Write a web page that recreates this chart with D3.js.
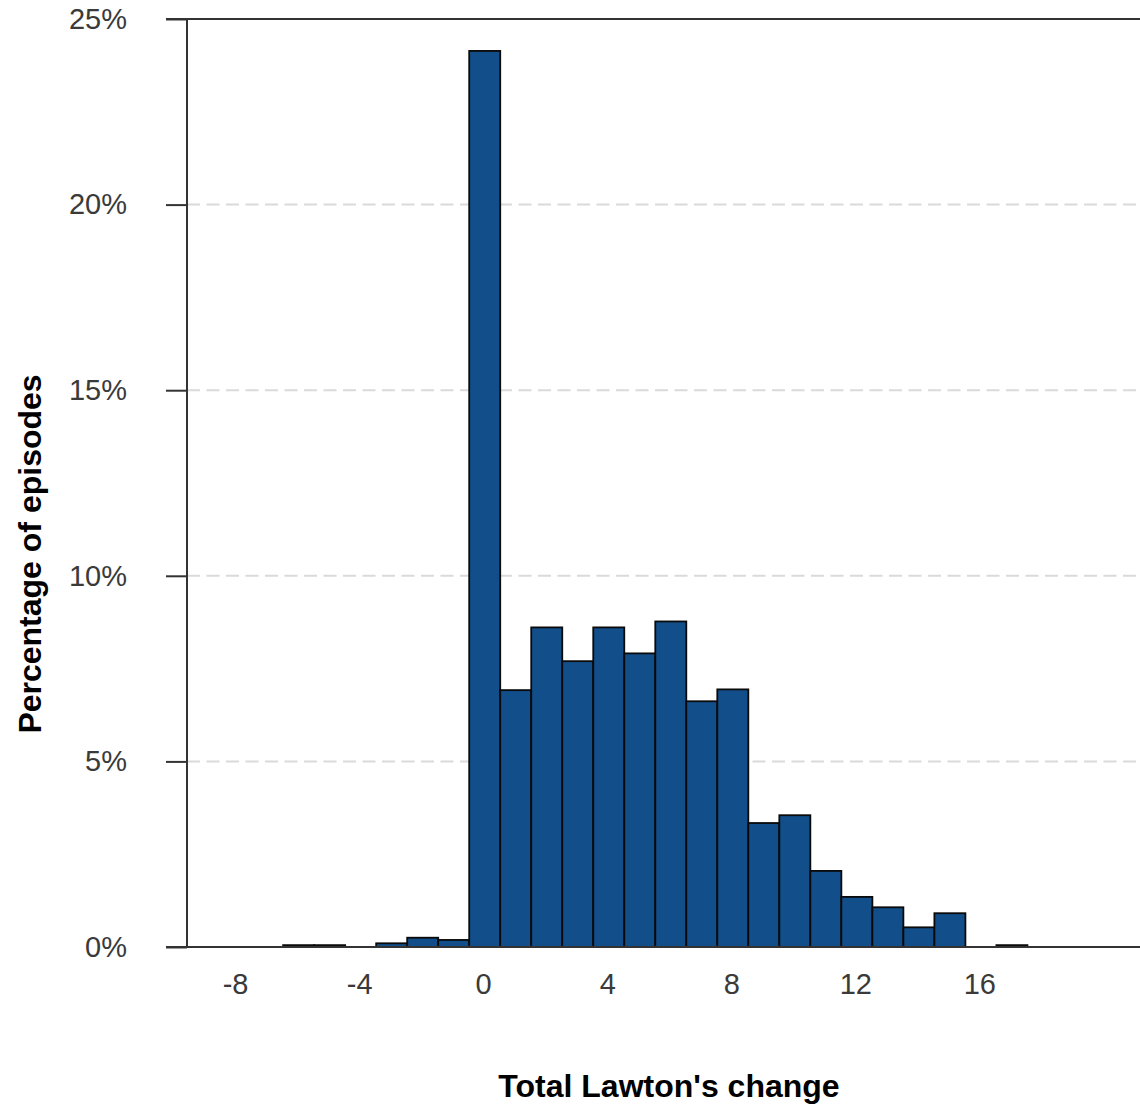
<!DOCTYPE html>
<html>
<head>
<meta charset="utf-8">
<script src="https://cdn.jsdelivr.net/npm/d3@7"></script>
<style>
  html, body { margin: 0; padding: 0; background: #fff; }
  svg { display: block; }
  text { font-family: "Liberation Sans", Arial, sans-serif; }
</style>
</head>
<body>
<svg id="chart" width="1140" height="1104"></svg>
<script>
// ---- data ----
const binCenters = [-6, -5, -3, -2, -1, 0, 1, 2, 3, 4, 5, 6, 7, 8, 9, 10, 11, 12, 13, 14, 15, 17];
const percentages = [0.05, 0.05, 0.10, 0.25, 0.19, 24.14, 6.92, 8.61, 7.70, 8.61, 7.91, 8.77, 6.62, 6.94, 3.34, 3.55, 2.05, 1.35, 1.07, 0.53, 0.91, 0.05];
const xTicks = [-8, -4, 0, 4, 8, 12, 16];
const yTicks = [0, 5, 10, 15, 20, 25];
const xTitle = "Total Lawton's change";
const yTitle = "Percentage of episodes";

// ---- layout ----
const plotLeft = 187, plotRight = 1140, plotTop = 19, plotBottom = 947;
const tickLen = 21;
const binLo = -0.45, binHi = 0.55;

const svg = d3.select("#chart");

const x = d3.scaleLinear().domain([-9.55, 21.18]).range([plotLeft, plotRight]);
const y = d3.scaleLinear().domain([0, 25]).range([plotBottom, plotTop]);

// gridlines (dashed) for inner ticks
svg.append("g")
  .selectAll("line")
  .data(yTicks.filter(t => t > 0 && t < 25))
  .join("line")
  .attr("x1", plotLeft).attr("x2", plotRight)
  .attr("y1", d => y(d)).attr("y2", d => y(d))
  .attr("stroke", "#dadada")
  .attr("stroke-width", 2)
  .attr("stroke-dasharray", "13,6.5");

// bars
const data = binCenters.map((c, i) => ({ c, v: percentages[i] }));
svg.append("g")
  .selectAll("rect")
  .data(data)
  .join("rect")
  .attr("x", d => x(d.c + binLo))
  .attr("width", d => x(d.c + binHi) - x(d.c + binLo))
  .attr("y", d => y(d.v))
  .attr("height", d => y(0) - y(d.v))
  .attr("fill", "#124e8a")
  .attr("stroke", "#0a0a0a")
  .attr("stroke-width", 1.8);

// y axis
const yAxis = d3.axisLeft(y)
  .tickValues(yTicks)
  .tickSize(tickLen)
  .tickPadding(39)
  .tickFormat(d => d + "%");
const gy = svg.append("g").attr("transform", `translate(${plotLeft},0)`).call(yAxis);
gy.select(".domain").remove();
gy.selectAll(".tick line").attr("stroke", "#333").attr("stroke-width", 2);
gy.selectAll(".tick text")
  .attr("fill", "#3a3a3a")
  .style("font-size", "29px")
  .style("font-family", "'Liberation Sans', Arial, sans-serif");

// y axis line
svg.append("line")
  .attr("x1", plotLeft).attr("x2", plotLeft)
  .attr("y1", y(25)).attr("y2", y(0))
  .attr("stroke", "#333").attr("stroke-width", 2);

// top and bottom full-width lines
[0, 25].forEach(v => {
  svg.append("line")
    .attr("x1", plotLeft - tickLen).attr("x2", plotRight)
    .attr("y1", y(v)).attr("y2", y(v))
    .attr("stroke", "#333").attr("stroke-width", 2);
});

// x axis labels
const xAxis = d3.axisBottom(x)
  .tickValues(xTicks)
  .tickSize(0)
  .tickPadding(0)
  .tickFormat(d => String(d));
const gx = svg.append("g").attr("transform", `translate(0,${plotBottom})`).call(xAxis);
gx.select(".domain").remove();
gx.selectAll(".tick text")
  .attr("y", 47).attr("dy", 0)
  .attr("fill", "#3a3a3a")
  .style("font-size", "29px")
  .style("font-family", "'Liberation Sans', Arial, sans-serif");

// titles
svg.append("text")
  .attr("x", 669).attr("y", 1097)
  .attr("text-anchor", "middle")
  .style("font-size", "32px")
  .style("font-weight", "bold")
  .attr("fill", "#000")
  .text(xTitle);

svg.append("text")
  .attr("transform", "translate(41,554) rotate(-90)")
  .attr("text-anchor", "middle")
  .style("font-size", "32px")
  .style("font-weight", "bold")
  .attr("fill", "#000")
  .text(yTitle);
</script>
</body>
</html>
